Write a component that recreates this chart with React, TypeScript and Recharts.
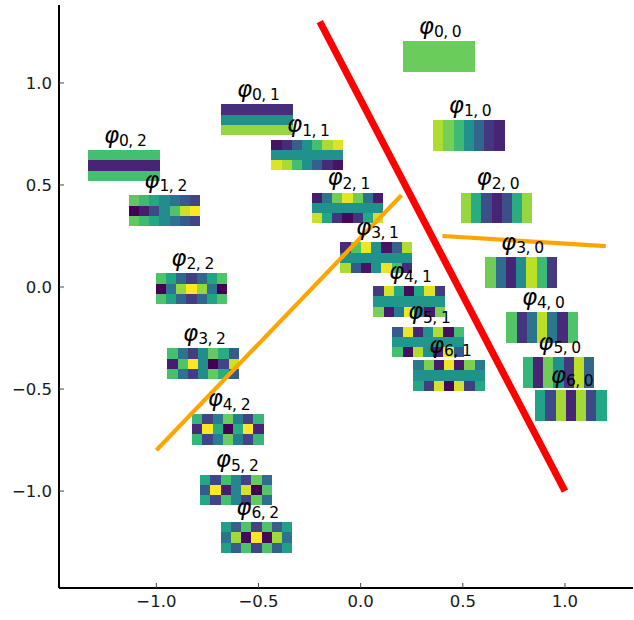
import { ReferenceArea, Scatter, ScatterChart, XAxis, YAxis } from 'recharts';

const viridisStops = ['#440154', '#482475', '#414487', '#355f8d', '#2a788e', '#21918c', '#22a884', '#44bf70', '#7ad151', '#bddf26', '#fde725'];

const xTicks = [-1, -0.5, 0, 0.5, 1];
const yTicks = [-1, -0.5, 0, 0.5, 1];

const redLine = [{ x: -0.2, y: 1.3 }, { x: 1, y: -1 }];
const orangeLine = [{ x: -1, y: -0.8 }, { x: 0.2, y: 0.45 }];
const orangeLine2 = [{ x: 0.4, y: 0.25 }, { x: 1.2, y: 0.2 }];

// centre of each small image, in data units: [i, j, x, y]
const basisCentres: [number, number, number, number][] = [
  [0, 0, 0.383, 1.13],
  [1, 0, 0.53, 0.742],
  [2, 0, 0.666, 0.387],
  [3, 0, 0.786, 0.071],
  [4, 0, 0.888, -0.199],
  [5, 0, 0.968, -0.418],
  [6, 0, 1.029, -0.581],
  [0, 1, -0.507, 0.82],
  [1, 1, -0.262, 0.646],
  [2, 1, -0.064, 0.388],
  [3, 1, 0.076, 0.144],
  [4, 1, 0.237, -0.071],
  [5, 1, 0.33, -0.269],
  [6, 1, 0.433, -0.434],
  [0, 2, -1.158, 0.595],
  [1, 2, -0.96, 0.374],
  [2, 2, -0.828, -0.008],
  [3, 2, -0.771, -0.376],
  [4, 2, -0.65, -0.697],
  [5, 2, -0.61, -0.994],
  [6, 2, -0.51, -1.228],
];

// cell values 0..1, three rows of seven, top row first
const flat = (v: number) => [v, v, v, v, v, v, v];
const basisValues: Record<string, number[][]> = {
  '0,0': [flat(0.77), flat(0.77), flat(0.77)],
  '1,0': [0, 1, 2].map(() => [0.88, 0.79, 0.68, 0.5, 0.33, 0.16, 0.1]),
  '2,0': [0, 1, 2].map(() => [0.84, 0.62, 0.24, 0.1, 0.24, 0.62, 0.84]),
  '3,0': [0, 1, 2].map(() => [0.78, 0.35, 0.1, 0.48, 0.9, 0.68, 0.17]),
  '4,0': [0, 1, 2].map(() => [0.73, 0.15, 0.38, 0.9, 0.4, 0.12, 0.72]),
  '5,0': [0, 1, 2].map(() => [0.66, 0.1, 0.78, 0.5, 0.16, 0.9, 0.33]),
  '6,0': [0, 1, 2].map(() => [0.58, 0.22, 0.86, 0.1, 0.86, 0.22, 0.6]),
  '0,1': [flat(0.13), flat(0.5), flat(0.84)],
  '1,1': [[0.05, 0.12, 0.3, 0.5, 0.7, 0.87, 0.95], flat(0.5), [0.95, 0.87, 0.7, 0.5, 0.3, 0.12, 0.05]],
  '2,1': [[0.08, 0.38, 0.78, 0.96, 0.78, 0.38, 0.08], flat(0.5), [0.92, 0.6, 0.15, 0.02, 0.15, 0.6, 0.92]],
  '3,1': [[0.12, 0.72, 0.97, 0.5, 0.05, 0.3, 0.88], flat(0.5), [0.87, 0.28, 0.05, 0.5, 0.97, 0.7, 0.12]],
  '4,1': [[0.17, 0.94, 0.6, 0.03, 0.6, 0.95, 0.17], flat(0.52), [0.8, 0.07, 0.4, 0.97, 0.4, 0.07, 0.8]],
  '5,1': [[0.28, 0.97, 0.1, 0.5, 0.88, 0.04, 0.7], flat(0.52), [0.7, 0.04, 0.88, 0.5, 0.1, 0.97, 0.28]],
  '6,1': [[0.4, 0.8, 0.07, 0.98, 0.07, 0.8, 0.4], flat(0.5), [0.6, 0.18, 0.94, 0.02, 0.94, 0.18, 0.6]],
  '0,2': [flat(0.7), flat(0.1), flat(0.7)],
  '1,2': [[0.75, 0.68, 0.6, 0.48, 0.38, 0.28, 0.2], [0, 0.08, 0.22, 0.48, 0.72, 0.92, 1], [0.75, 0.68, 0.6, 0.48, 0.38, 0.28, 0.2]],
  '2,2': [[0.72, 0.58, 0.33, 0.18, 0.33, 0.58, 0.72], [0, 0.38, 0.84, 1, 0.84, 0.38, 0], [0.72, 0.58, 0.33, 0.18, 0.33, 0.58, 0.72]],
  '3,2': [[0.7, 0.38, 0.18, 0.48, 0.76, 0.62, 0.28], [0.08, 0.72, 1, 0.48, 0, 0.2, 0.92], [0.7, 0.38, 0.18, 0.48, 0.76, 0.62, 0.28]],
  '4,2': [[0.66, 0.2, 0.42, 0.77, 0.42, 0.2, 0.66], [0.12, 1, 0.62, 0, 0.62, 1, 0.1], [0.66, 0.2, 0.42, 0.77, 0.42, 0.2, 0.66]],
  '5,2': [[0.6, 0.2, 0.7, 0.46, 0.2, 0.76, 0.36], [0.28, 1, 0.08, 0.46, 0.94, 0, 0.73], [0.6, 0.2, 0.7, 0.46, 0.2, 0.76, 0.36]],
  '6,2': [[0.56, 0.3, 0.72, 0.2, 0.72, 0.3, 0.56], [0.38, 0.86, 0.02, 1, 0.02, 0.86, 0.38], [0.56, 0.3, 0.72, 0.2, 0.72, 0.3, 0.56]],
};

const IMG_W = 0.35;
const IMG_H = 0.15;
const FONT = '"DejaVu Sans", sans-serif';

function viridis(v: number) {
  const t = Math.min(0.9999, Math.max(0, v)) * (viridisStops.length - 1);
  const i = Math.floor(t);
  const f = t - i;
  const a = viridisStops[i];
  const b = viridisStops[i + 1];
  const mix = (s: number) => {
    const ca = parseInt(a.slice(s, s + 2), 16);
    const cb = parseInt(b.slice(s, s + 2), 16);
    return Math.round(ca + (cb - ca) * f);
  };
  return `rgb(${mix(1)},${mix(3)},${mix(5)})`;
}

const labelPoints = basisCentres.map(([i, j, x, y]) => ({ x, y: y + IMG_H / 2, name: `${i}, ${j}` }));

function BasisLabel(props: any) {
  const { cx, cy, payload } = props;
  return (
    <text x={cx + 1} y={cy - 7.5} textAnchor="middle" fontFamily={FONT} fill="#000">
      <tspan fontSize={23} fontStyle="italic">φ</tspan>
      <tspan fontSize={15.5} dy={3.5} letterSpacing={-0.6}>{payload.name}</tspan>
    </text>
  );
}

const noDot = () => <g />;
const fmt = (v: number) => v.toFixed(1).replace('-', '\u2212');

export default function App() {
  return (
    <div style={{ position: 'absolute', left: 0, top: 0 }}>
      <ScatterChart width={634} height={620} margin={{ top: 5, right: 1, bottom: 0, left: 0 }}>
        <XAxis
          type="number"
          dataKey="x"
          domain={[-1.4765, 1.333]}
          ticks={xTicks}
          tickFormatter={fmt}
          height={32}
          tickSize={-5}
          tickMargin={12}
          allowDataOverflow
          axisLine={{ stroke: '#000', strokeWidth: 2 }}
          tickLine={{ stroke: '#444', strokeWidth: 1 }}
          tick={{ fontSize: 16.5, fill: '#1a1a1a', fontFamily: FONT }}
        />
        <YAxis
          type="number"
          dataKey="y"
          domain={[-1.475, 1.382]}
          ticks={yTicks}
          tickFormatter={fmt}
          width={59}
          tickSize={-5}
          tickMargin={12}
          allowDataOverflow
          axisLine={{ stroke: '#000', strokeWidth: 2 }}
          tickLine={{ stroke: '#444', strokeWidth: 1 }}
          tick={{ fontSize: 16.5, fill: '#1a1a1a', fontFamily: FONT }}
        />
        {basisCentres.flatMap(([i, j, cx, cy]) =>
          basisValues[`${i},${j}`].flatMap((row, r) =>
            row.map((v, c) => (
              <ReferenceArea
                key={`${i}-${j}-${r}-${c}`}
                x1={cx - IMG_W / 2 + (c * IMG_W) / 7}
                x2={cx - IMG_W / 2 + ((c + 1) * IMG_W) / 7}
                y1={cy + IMG_H / 2 - (r * IMG_H) / 3}
                y2={cy + IMG_H / 2 - ((r + 1) * IMG_H) / 3}
                fill={viridis(v)}
                fillOpacity={1}
                stroke="none"
                shapeRendering="crispEdges"
              />
            )),
          ),
        )}
        <Scatter data={redLine} line={{ stroke: '#ff0000', strokeWidth: 7 }} shape={noDot} isAnimationActive={false} />
        <Scatter data={orangeLine} line={{ stroke: '#ffa500', strokeWidth: 4.2 }} shape={noDot} isAnimationActive={false} />
        <Scatter data={orangeLine2} line={{ stroke: '#ffa500', strokeWidth: 4.2 }} shape={noDot} isAnimationActive={false} />
        <Scatter data={labelPoints} shape={BasisLabel} isAnimationActive={false} />
      </ScatterChart>
    </div>
  );
}
